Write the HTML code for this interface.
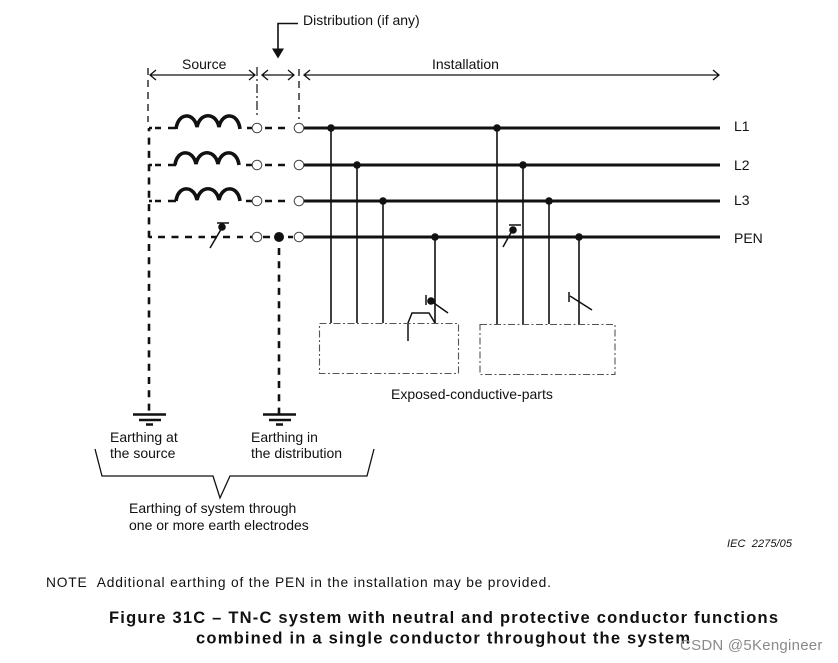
<!DOCTYPE html>
<html><head><meta charset="utf-8"><style>
html,body{margin:0;padding:0;background:#fff}
svg{display:block}
text{font-family:"Liberation Sans",sans-serif;fill:#111}
</style></head><body>
<svg width="838" height="663" viewBox="0 0 838 663" xmlns="http://www.w3.org/2000/svg">
<rect width="838" height="663" fill="#fff"/>
<g fill="none" stroke="#111">
<!-- Dimension lines -->
<g stroke-width="1.3">
<path d="M150 75H255M156 70L150 75L156 80M249 70L255 75L249 80"/>
<path d="M262 75H294M268 70L262 75L268 80M288 70L294 75L288 80"/>
<path d="M304 75H719M310 70L304 75L310 80M713 70L719 75L713 80"/>
</g>
<path d="M148 68V122" stroke-width="1.3" stroke-dasharray="7 5"/>
<path d="M257 67V116" stroke-width="1.2" stroke-dasharray="9 3 2 3"/>
<path d="M299 69V119" stroke-width="1.3" stroke-dasharray="7 5"/>
<!-- Distribution arrow -->
<path d="M298 23.500H278V50" stroke-width="1.6"/>
<!-- Earth dashed -->
<path d="M149 128V412" stroke-width="2.6" stroke-dasharray="7 6.300" stroke-dashoffset="3.700"/>
<path d="M279 248V414" stroke-width="2.6" stroke-dasharray="7 6.300"/>
<!-- Source dashed rows -->
<g stroke-width="2.600">
<path d="M149 128H152M155 128H161M168 128H176M247 128H252M265 128H272M278 128H285"/>
<path d="M149 165H152M155 165H161M168 165H176M246 165H252M265 165H272M278 165H285"/>
<path d="M149 201H152M155 201H161M168 201H176M246 201H252M265 201H272M278 201H285"/>
<path d="M149 237H152M158 237H165M171.500 237H178.500M185 237H192M198.500 237H205M211 237H217M223 237H230M237 237H243M250 237H253M263 237H270M288 237H293"/>
</g>
<!-- Coils -->
<g stroke-width="3.600">
<path d="M176 129C178 112 194 112 197 127C200 112 216 112 219 127C222 112 238 112 240 129"/>
<path d="M175 165C177 149 193 149 196 164C199 149 215 149 218 164C221 149 237 149 239 165"/>
<path d="M176 201C178 185 194 185 197 200C200 185 216 185 219 200C222 185 238 185 240 201"/>
</g>
<!-- Phase conductors -->
<g stroke-width="3">
<path d="M303 128H720M303 165H720M303 201H720M303 237H720"/>
</g>
<!-- Vertical taps -->
<g stroke-width="1.600">
<path d="M331 128V323M357 165V323M383 201V323M435 237V323"/>
<path d="M497 128V324M523 165V324M549 201V324M579 237V324"/>
</g>
<!-- Switches -->
<g stroke-width="1.500">
<path d="M210 248L223 226M217 223H229"/>
<path d="M503 247L513 229M509 225H521"/>
<path d="M426 295V305M431 301L448 313"/>
<path d="M569 292V302M570 296L592 310"/>
<path d="M408 341V323L412 313H429L435 323"/>
</g>
<!-- Boxes -->
<g stroke="#555" stroke-width="1.100" stroke-dasharray="7 2.500 2 2.500">
<rect x="319.500" y="323.500" width="139" height="50"/>
<rect x="480" y="324.500" width="135" height="50"/>
</g>
<!-- Earth symbols -->
<g stroke-width="2.500">
<path d="M133 414.500H166M139 420H161M146 424.500H153"/>
<path d="M263 414.500H296M269 420H291M276 424.500H283"/>
</g>
<!-- Brace -->
<path d="M95 449L102 476H213L220 498L230 476H367L374 449" stroke-width="1.300"/>
</g>
<path d="M272 48.500H284L278 58.500Z" fill="#111"/>
<!-- Open terminals -->
<g fill="#fff" stroke="#444" stroke-width="1">
<circle cx="257" cy="128" r="4.800"/><circle cx="299" cy="128" r="4.800"/>
<circle cx="257" cy="165" r="4.800"/><circle cx="299" cy="165" r="4.800"/>
<circle cx="257" cy="201" r="4.800"/><circle cx="299" cy="201" r="4.800"/>
<circle cx="257" cy="237" r="4.800"/><circle cx="299" cy="237" r="4.800"/>
</g>
<!-- Dots -->
<g fill="#111">
<circle cx="331" cy="128" r="3.800"/><circle cx="357" cy="165" r="3.800"/><circle cx="383" cy="201" r="3.800"/><circle cx="435" cy="237" r="3.800"/>
<circle cx="497" cy="128" r="3.800"/><circle cx="523" cy="165" r="3.800"/><circle cx="549" cy="201" r="3.800"/><circle cx="579" cy="237" r="3.800"/>
<circle cx="279" cy="237" r="5"/>
<circle cx="222" cy="227" r="3.800"/><circle cx="513" cy="230" r="3.800"/><circle cx="431" cy="301" r="3.800"/>
</g>
<!-- Labels -->
<g font-size="14">
<text x="303" y="25">Distribution (if any)</text>
<text x="182" y="69">Source</text>
<text x="432" y="69">Installation</text>
<text x="734" y="131">L1</text>
<text x="734" y="170">L2</text>
<text x="734" y="205">L3</text>
<text x="734" y="243">PEN</text>
<text x="391" y="399">Exposed-conductive-parts</text>
<text x="110" y="442">Earthing at</text>
<text x="110" y="458">the source</text>
<text x="251" y="442">Earthing in</text>
<text x="251" y="458">the distribution</text>
<text x="129" y="513">Earthing of system through</text>
<text x="129" y="530">one or more earth electrodes</text>
</g>
<text x="727" y="547" font-size="11" font-style="italic" textLength="65">IEC&#160;&#160;2275/05</text>
<text x="46" y="587" font-size="13.800" textLength="505">NOTE&#160;&#160;Additional earthing of the PEN in the installation may be provided.</text>
<g font-size="16.500" font-weight="bold">
<text x="109" y="623" textLength="669">Figure 31C – TN-C system with neutral and protective conductor functions</text>
<text x="196" y="643.500" textLength="494">combined in a single conductor throughout the system</text>
</g>
<text x="680" y="650" font-size="15" style="fill:#8a8a8a" letter-spacing=".25">CSDN @5Kengineer</text>
</svg>
</body></html>
